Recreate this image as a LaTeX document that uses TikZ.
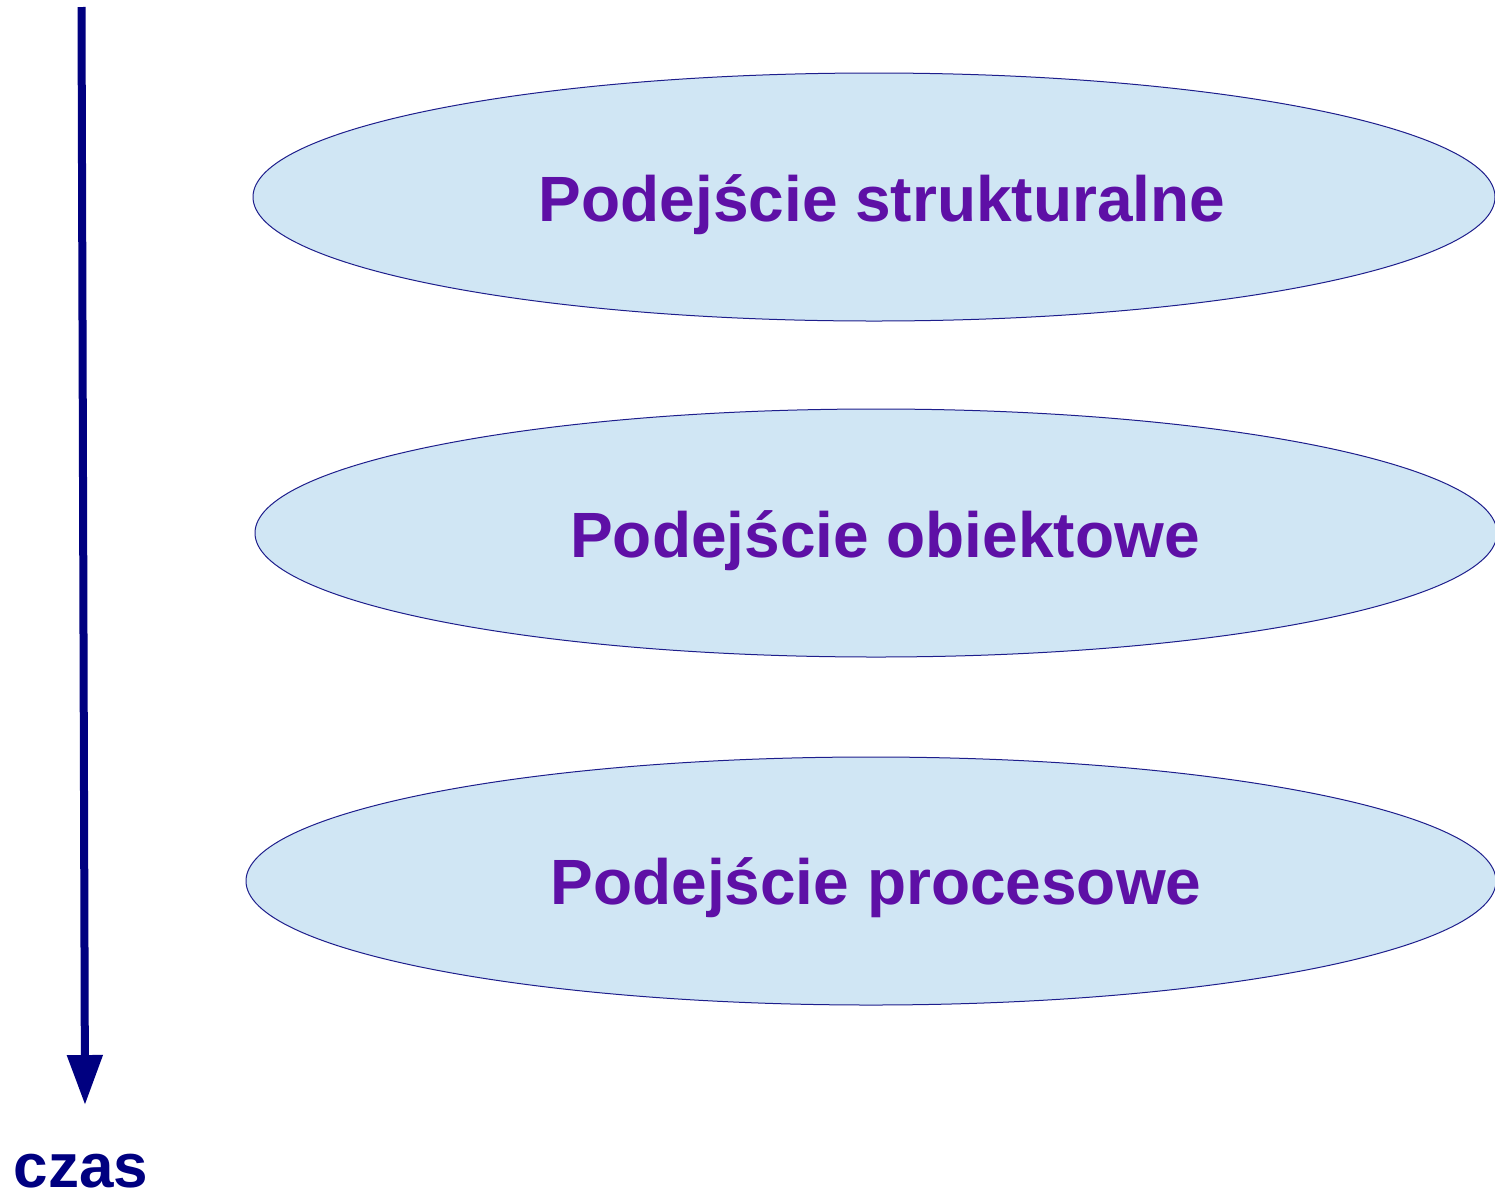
\documentclass[tikz,border=0pt]{standalone}
\usepackage{fontspec}
\setmainfont{Liberation Sans}
\usepackage{xcolor}
\usepackage{tikz}
\usetikzlibrary{shapes.geometric, arrows.meta, positioning}
\definecolor{czasblue}{RGB}{0,0,128}
\definecolor{approachpurple}{RGB}{94,16,166}
\definecolor{ellipsefill}{RGB}{208,230,244}
\definecolor{ellipseborder}{RGB}{30,30,140}

\begin{document}
\begin{tikzpicture}[
    x=1pt, y=-1pt,
    approach/.style={ellipse, draw=ellipseborder, fill=ellipsefill, line width=1pt,
        minimum width=1242pt, minimum height=248pt, inner sep=0pt},
    approachtext/.style={anchor=base, inner sep=0pt, text=approachpurple,
        font=\fontsize{64}{70}\selectfont\bfseries},
    timeline/.style={line width=8pt, draw=czasblue, -{Triangle[width=34pt,length=50pt]}}
]
    \useasboundingbox (0,0) rectangle (1495,1195);
    \node[approach] (strukturalne) at (874,197) {};
    \node[approach] (obiektowe) at (876,533) {};
    \node[approach, minimum width=1250pt] (procesowe) at (871,881) {};
    \node[approachtext] (strukturalne-napis) at (882,221) {Podejście strukturalne};
    \node[approachtext] (obiektowe-napis) at (885,557) {Podejście obiektowe};
    \node[approachtext] (procesowe-napis) at (876,904) {Podejście procesowe};
    % os czasu
    \coordinate (start) at (81.5,7);
    \coordinate (koniec) at (85,1105);
    \draw[timeline] (start) -- (koniec);
    \node[anchor=base, inner sep=0pt, text=czasblue, font=\fontsize{62}{68}\selectfont\bfseries] (czas) at (81,1187) {czas};
\end{tikzpicture}
\end{document}
